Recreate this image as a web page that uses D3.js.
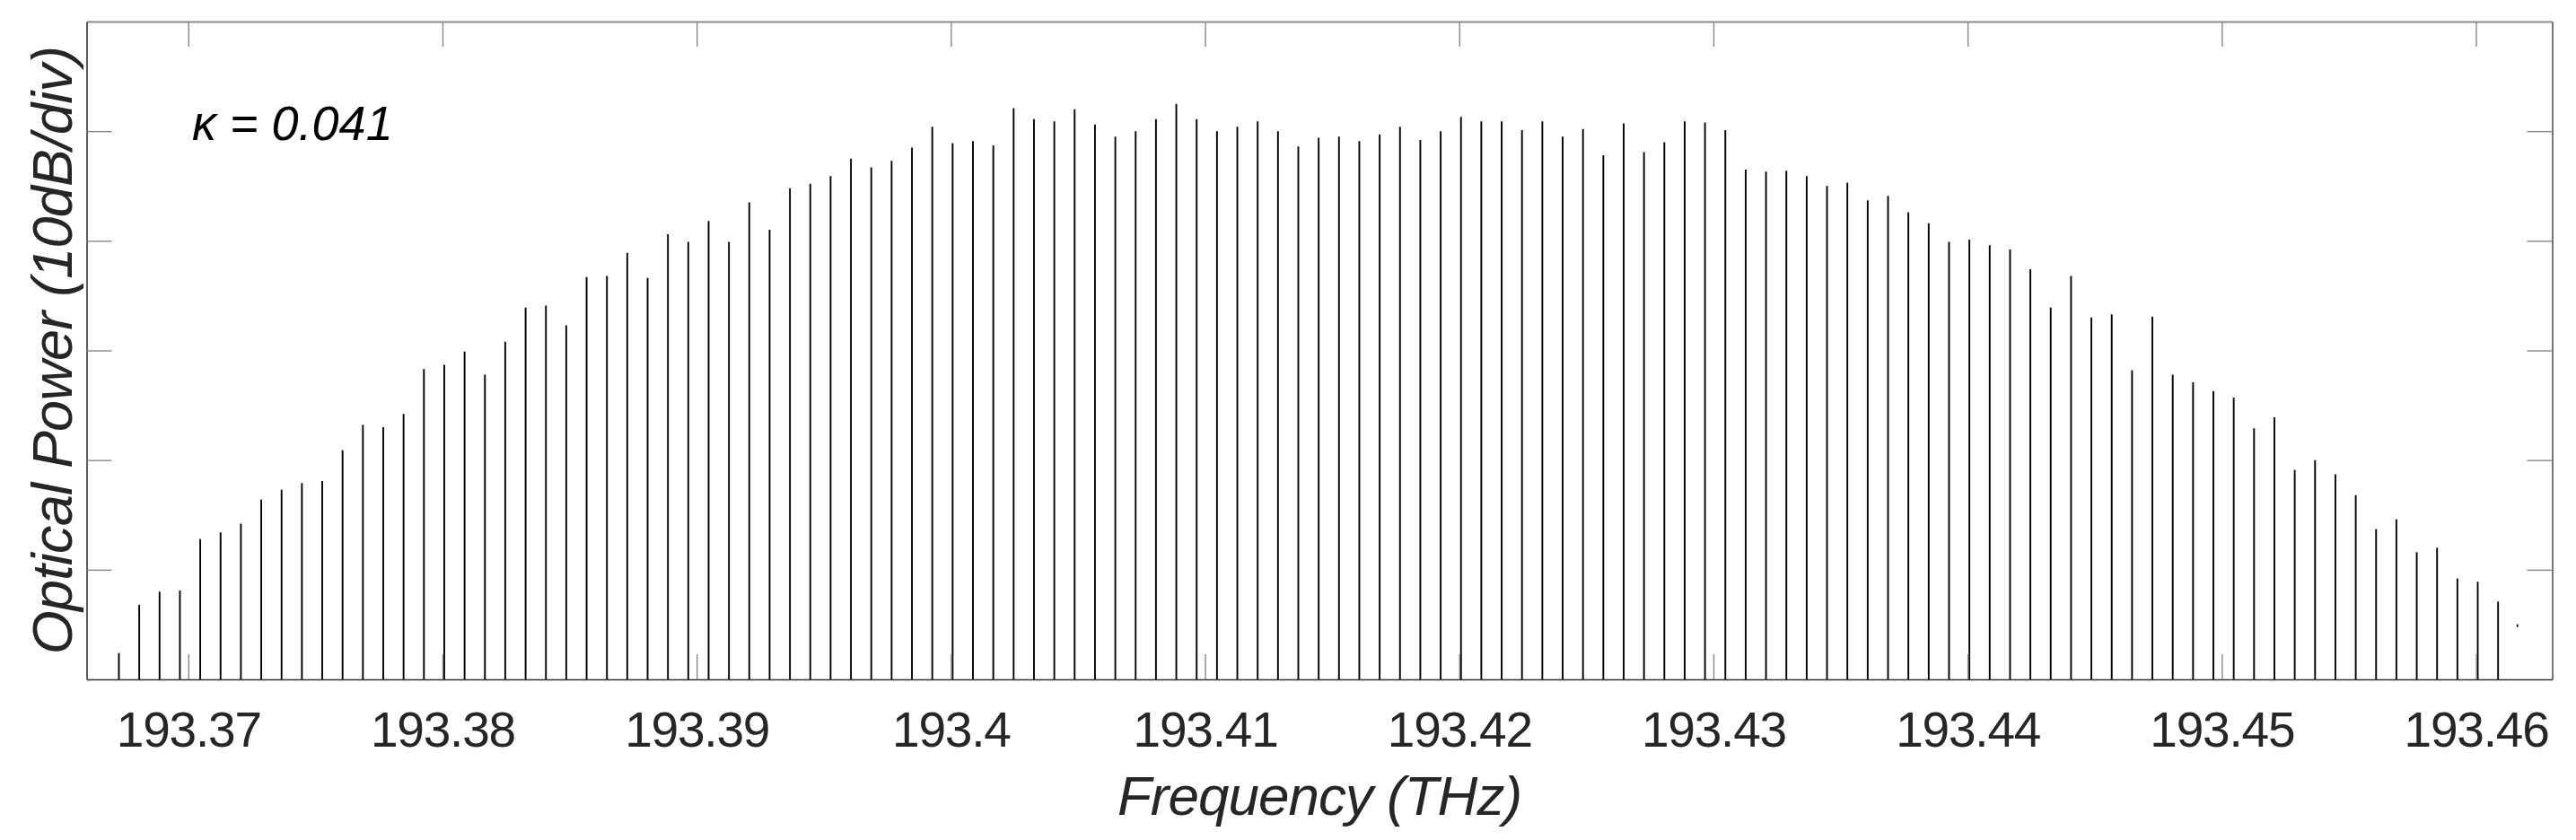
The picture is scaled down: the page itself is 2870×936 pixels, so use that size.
<!DOCTYPE html>
<html>
<head>
<meta charset="utf-8">
<script src="https://cdn.jsdelivr.net/npm/d3@7"></script>
<style>
  html, body { margin: 0; padding: 0; background: #fff; }
  svg { display: block; }
</style>
</head>
<body>
<svg id="chart" width="2870" height="936"></svg>
<script>
// ---- Data ----
// Comb line frequencies (THz)
const freqTHz = [
  193.36727, 193.36807, 193.36887, 193.36967, 193.37047, 193.37127, 193.37207, 193.37287, 193.37367, 193.37447,
  193.37527, 193.37607, 193.37687, 193.37767, 193.37847, 193.37927, 193.38007, 193.38087, 193.38167, 193.38247,
  193.38327, 193.38407, 193.38487, 193.38567, 193.38647,
  193.38727, 193.38807, 193.38887, 193.38967, 193.39047, 193.39127, 193.39207, 193.39287, 193.39367, 193.39447,
  193.39527, 193.39607, 193.39687, 193.39767, 193.39847, 193.39927, 193.40007, 193.40087, 193.40167, 193.40247,
  193.40327, 193.40407, 193.40487, 193.40567, 193.40647,
  193.40727, 193.40807, 193.40887, 193.40967, 193.41047, 193.41127, 193.41207, 193.41287, 193.41367, 193.41447,
  193.41527, 193.41607, 193.41687, 193.41767, 193.41847, 193.41927, 193.42007, 193.42087, 193.42167, 193.42247,
  193.42327, 193.42407, 193.42487, 193.42567, 193.42647,
  193.42727, 193.42807, 193.42887, 193.42967, 193.43047, 193.43127, 193.43207, 193.43287, 193.43367, 193.43447,
  193.43527, 193.43607, 193.43687, 193.43767, 193.43847, 193.43927, 193.44007, 193.44087, 193.44167, 193.44247,
  193.44327, 193.44407, 193.44487, 193.44567, 193.44647,
  193.44727, 193.44807, 193.44887, 193.44967, 193.45047, 193.45127, 193.45207, 193.45287, 193.45367, 193.45447,
  193.45527, 193.45607, 193.45687, 193.45767, 193.45847, 193.45927, 193.46007, 193.46087
];
// Optical power of each comb line, in divisions (10 dB/div) above the bottom of the frame
const powerDiv = [
  0.24, 0.68, 0.80, 0.81, 1.28, 1.34, 1.42, 1.64, 1.73, 1.79,
  1.81, 2.09, 2.32, 2.30, 2.42, 2.83, 2.87, 2.99, 2.78, 3.08,
  3.39, 3.41, 3.23, 3.67, 3.68,
  3.89, 3.66, 4.06, 3.99, 4.18, 3.99, 4.35, 4.10, 4.48, 4.52,
  4.59, 4.75, 4.67, 4.73, 4.85, 5.04, 4.89, 4.91, 4.87, 5.21,
  5.11, 5.09, 5.20, 5.06, 4.95,
  5.00, 5.11, 5.25, 5.11, 5.00, 5.04, 5.09, 5.00, 4.86, 4.94,
  4.95, 4.91, 4.97, 5.04, 4.92, 5.00, 5.13, 5.09, 5.09, 5.01,
  5.09, 4.95, 5.02, 4.78, 5.07,
  4.81, 4.90, 5.09, 5.08, 5.01, 4.65, 4.63, 4.64, 4.59, 4.50,
  4.53, 4.37, 4.41, 4.26, 4.16, 3.99, 4.01, 3.96, 3.92, 3.74,
  3.39, 3.68, 3.30, 3.33, 2.82,
  3.31, 2.78, 2.71, 2.63, 2.57, 2.29, 2.39, 1.91, 2.00, 1.87,
  1.68, 1.37, 1.46, 1.16, 1.20, 0.92, 0.89, 0.71
];
// Isolated point at the far right
const strayFreqTHz = [193.46163];
const strayPowerDiv = [0.49];

const xTickValues = [193.37, 193.38, 193.39, 193.40, 193.41, 193.42, 193.43, 193.44, 193.45, 193.46];
const yTickValues = [1, 2, 3, 4, 5];
const xDomain = [193.366, 193.463];
const yDomain = [0, 6];

const xTitle = "Frequency (THz)";
const yTitle = "Optical Power (10dB/div)";
const annotation = "\u03BA = 0.041";

// ---- Layout ----
const plotL = 96.5, plotR = 2843.5, plotT = 24, plotB = 757;
const svg = d3.select("#chart");

const x = d3.scaleLinear().domain(xDomain).range([plotL, plotR]);
const y = d3.scaleLinear().domain(yDomain).range([plotB, plotT]);

const font = "'Liberation Sans', Arial, Helvetica, sans-serif";
const tickLen = 28;

// Comb lines
const comb = freqTHz.map((f, i) => ({ f, p: powerDiv[i] }));
svg.append("g").attr("class", "comb")
  .selectAll("line").data(comb).join("line")
  .attr("x1", d => x(d.f)).attr("x2", d => x(d.f))
  .attr("y1", y(0)).attr("y2", d => y(d.p))
  .attr("stroke", "#000").attr("stroke-width", 1.9);

// Stray point
const stray = strayFreqTHz.map((f, i) => ({ f, p: strayPowerDiv[i] }));
svg.append("g").selectAll("rect").data(stray).join("rect")
  .attr("x", d => x(d.f) - 0.9).attr("y", d => y(d.p) - 1.5)
  .attr("width", 1.8).attr("height", 3).attr("fill", "#000");

// Axes (box with inward ticks on all sides)
const fmt = d => String(+d.toFixed(2));

const gBottom = svg.append("g").attr("transform", `translate(0,${plotB})`)
  .call(d3.axisBottom(x).tickValues(xTickValues).tickFormat(fmt)
    .tickSizeInner(-tickLen).tickSizeOuter(0).tickPadding(36));
const gTop = svg.append("g").attr("transform", `translate(0,${plotT})`)
  .call(d3.axisTop(x).tickValues(xTickValues).tickFormat("")
    .tickSizeInner(-tickLen).tickSizeOuter(0));
const gLeft = svg.append("g").attr("transform", `translate(${plotL},0)`)
  .call(d3.axisLeft(y).tickValues(yTickValues).tickFormat("")
    .tickSizeInner(-tickLen).tickSizeOuter(0));
const gRight = svg.append("g").attr("transform", `translate(${plotR},0)`)
  .call(d3.axisRight(y).tickValues(yTickValues).tickFormat("")
    .tickSizeInner(-tickLen).tickSizeOuter(0));

[gBottom, gTop, gLeft, gRight].forEach(g => {
  g.selectAll(".tick line").attr("stroke", "#888").attr("stroke-width", 1.4);
});
gBottom.select(".domain").attr("stroke", "#333").attr("stroke-width", 1.6);
gLeft.select(".domain").attr("stroke", "#333").attr("stroke-width", 1.6);
gTop.select(".domain").attr("stroke", "#8a8a8a").attr("stroke-width", 1.8);
gRight.select(".domain").attr("stroke", "#555").attr("stroke-width", 1.6);

gBottom.selectAll(".tick text")
  .attr("font-family", font).attr("font-size", 55)
  .attr("letter-spacing", "-1.2px")
  .attr("fill", "#262626");

// Axis titles
svg.append("text")
  .attr("x", (plotL + plotR) / 2).attr("y", 908)
  .attr("text-anchor", "middle")
  .attr("font-family", font).attr("font-style", "italic")
  .attr("font-size", 62).attr("letter-spacing", "-1px")
  .attr("fill", "#262626")
  .text(xTitle);

svg.append("text")
  .attr("transform", `translate(80,${(plotT + plotB) / 2}) rotate(-90)`)
  .attr("text-anchor", "middle")
  .attr("font-family", font).attr("font-style", "italic")
  .attr("font-size", 63).attr("letter-spacing", "-0.8px")
  .attr("fill", "#262626")
  .text(yTitle);

// Annotation
svg.append("text")
  .attr("x", 214).attr("y", 156)
  .attr("font-family", font).attr("font-style", "italic")
  .attr("font-size", 54)
  .attr("fill", "#000")
  .text(annotation);
</script>
</body>
</html>
